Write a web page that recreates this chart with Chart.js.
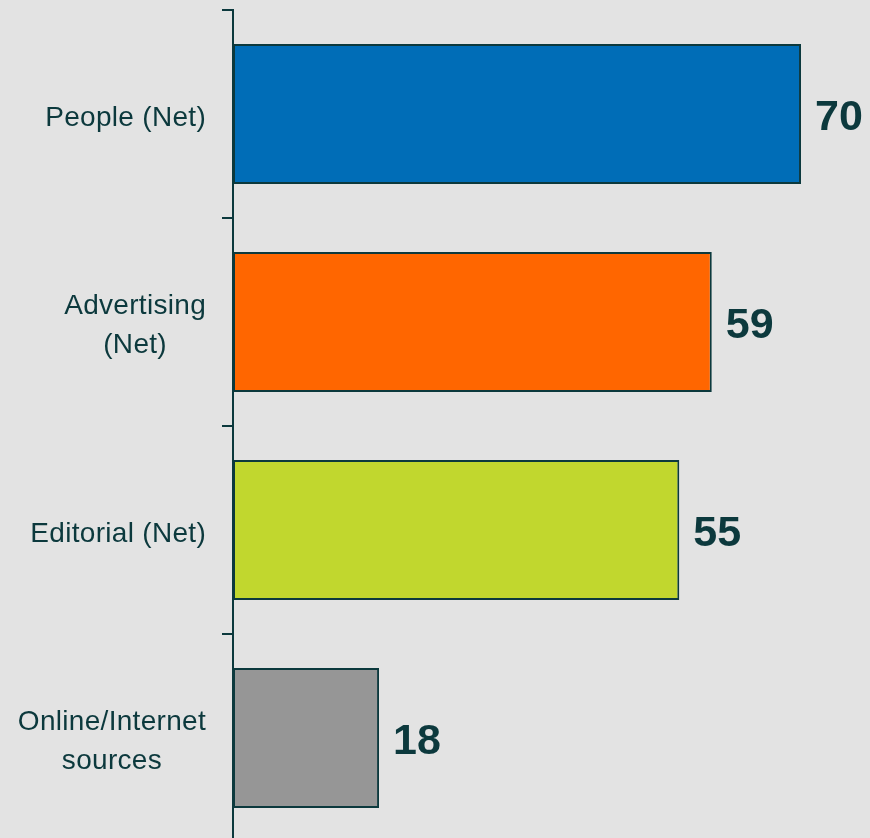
<!DOCTYPE html>
<html>
<head>
<meta charset="utf-8">
<script src="https://cdn.jsdelivr.net/npm/chart.js@4/dist/chart.umd.min.js"></script>
<style>
  html, body { margin: 0; padding: 0; background: #e3e3e3; overflow: hidden; }
  #wrap { width: 870px; height: 850px; position: relative; }
</style>
</head>
<body>
<div id="wrap"><canvas id="chart"></canvas></div>
<script>
// Source of information (%), net groupings
const categories = [['People (Net)'], ['Advertising', '(Net)'], ['Editorial (Net)'], ['Online/Internet', 'sources']];
const values = [70, 59, 55, 18];
const barColors = ['#006db7', '#ff6600', '#c1d72e', '#969696'];

const INK = '#0c393d';
const LABEL_FONT = '28px "Liberation Sans", Arial, sans-serif';
const VALUE_FONT = 'bold 43px "Liberation Sans", Arial, sans-serif';

// Category labels: each block right-aligned next to the axis, lines centred within the block
const categoryLabels = {
  id: 'categoryLabels',
  afterDraw(chart) {
    const ctx = chart.ctx;
    const y = chart.scales.y;
    const right = y.right - 27;
    const lineH = 39;
    ctx.save();
    ctx.font = LABEL_FONT;
    if ('letterSpacing' in ctx) ctx.letterSpacing = '0.3px';
    ctx.fillStyle = INK;
    ctx.textAlign = 'center';
    ctx.textBaseline = 'middle';
    categories.forEach((lines, i) => {
      const cy = y.getPixelForValue(i) + 4;
      const widest = Math.max(...lines.map(l => ctx.measureText(l).width));
      const cx = right - widest / 2;
      const top = cy - (lines.length - 1) * lineH / 2;
      lines.forEach((l, j) => ctx.fillText(l, cx, top + j * lineH));
    });
    ctx.restore();
  }
};

// Value labels at the end of each bar
const valueLabels = {
  id: 'valueLabels',
  afterDatasetsDraw(chart) {
    const ctx = chart.ctx;
    const meta = chart.getDatasetMeta(0);
    ctx.save();
    ctx.font = VALUE_FONT;
    ctx.fillStyle = INK;
    ctx.textAlign = 'left';
    ctx.textBaseline = 'middle';
    meta.data.forEach((bar, i) => {
      ctx.fillText(String(values[i]), bar.x + 14, bar.y + 4);
    });
    ctx.restore();
  }
};

new Chart(document.getElementById('chart'), {
  type: 'bar',
  data: {
    labels: categories,
    datasets: [{
      data: values,
      backgroundColor: barColors,
      borderColor: INK,
      borderWidth: 2,
      borderSkipped: false,
      barPercentage: 0.673,
      categoryPercentage: 1
    }]
  },
  options: {
    indexAxis: 'y',
    responsive: true,
    maintainAspectRatio: false,
    animation: false,
    layout: { padding: { top: 10, bottom: 8, left: 0, right: 0 } },
    plugins: { legend: { display: false }, tooltip: { enabled: false } },
    scales: {
      x: { display: false, min: 0, max: 78.5 },
      y: {
        position: 'left',
        afterFit(scale) { scale.width = 233; },
        ticks: { display: false },
        grid: {
          offset: true,
          drawOnChartArea: false,
          drawTicks: true,
          tickLength: 11,
          color: INK,
          lineWidth: 2
        },
        border: { display: true, color: INK, width: 2 }
      }
    }
  },
  plugins: [valueLabels, categoryLabels]
});
</script>
</body>
</html>
